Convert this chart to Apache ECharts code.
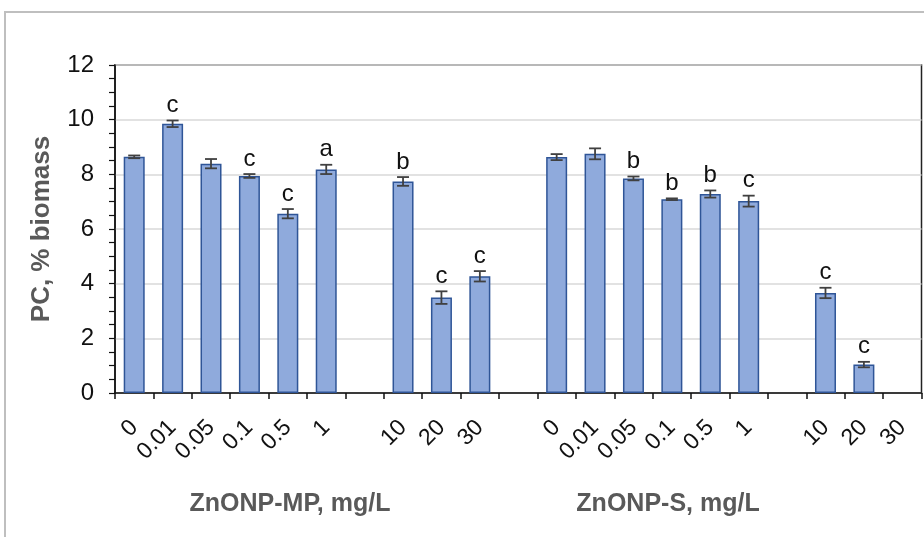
<!DOCTYPE html>
<html>
<head>
<meta charset="utf-8">
<script src="https://cdn.jsdelivr.net/npm/echarts@6/dist/echarts.min.js"></script>
<style>html,body{margin:0;padding:0;background:#fff}#c{width:924px;height:537px}</style>
</head>
<body>
<div id="c"></div>
<script>
// Tick labels (category axis); '' marks an empty gap slot
var tickLabels = ['0','0.01','0.05','0.1','0.5','1','','10','20','30','','0','0.01','0.05','0.1','0.5','1','','10','20','30'];
// PC, % biomass — ZnONP-MP group then ZnONP-S group (null = gap/no data)
var means = [8.64, 9.85, 8.39, 7.94, 6.56, 8.18, null, 7.74, 3.49, 4.27, null,
             8.63, 8.75, 7.85, 7.09, 7.28, 7.02, null, 3.66, 1.04, null];
var errors = [0.05, 0.12, 0.17, 0.07, 0.17, 0.17, null, 0.16, 0.23, 0.19, null,
              0.11, 0.20, 0.07, 0.03, 0.13, 0.20, null, 0.19, 0.10, null];
var letters = ['', 'c', '', 'c', 'c', 'a', '', 'b', 'c', 'c', '',
               '', '', 'b', 'b', 'b', 'c', '', 'c', 'c', ''];
var yTitle = 'PC, % biomass';
var groupTitles = ['ZnONP-MP, mg/L', 'ZnONP-S, mg/L'];

var FONT = '"Liberation Sans", Arial, sans-serif';
var errData = [];
for (var i = 0; i < means.length; i++) {
  if (means[i] != null) errData.push([i, means[i], errors[i], letters[i]]);
}

var chart = echarts.init(document.getElementById('c'), null, {renderer: 'canvas'});
chart.setOption({
  animation: false,
  backgroundColor: '#fff',
  grid: {left: 115, right: 2.5, top: 65, bottom: 144, show: true, borderColor: '#222', borderWidth: 1.5, backgroundColor: 'transparent'},
  xAxis: {
    type: 'category',
    data: tickLabels,
    boundaryGap: true,
    axisLine: {lineStyle: {color: '#111', width: 1.5}},
    axisTick: {show: true, interval: 0, length: 6, lineStyle: {color: '#111', width: 1.5}},
    axisLabel: {interval: 0, rotate: 45, margin: 31, fontSize: 23, color: '#111', fontFamily: FONT},
    splitLine: {show: false}
  },
  yAxis: {
    type: 'value', min: 0, max: 12, interval: 2,
    name: yTitle, nameLocation: 'middle', nameGap: 60,
    nameTextStyle: {fontSize: 26, fontWeight: 'bold', color: '#595959', fontFamily: FONT},
    axisLine: {show: true, lineStyle: {color: '#111', width: 1.5}},
    axisTick: {show: true, length: 6, lineStyle: {color: '#111', width: 1.2}},
    minorTick: {show: true, splitNumber: 4, length: 6, lineStyle: {color: '#111', width: 1.2}},
    axisLabel: {fontSize: 24, color: '#111', margin: 21, fontFamily: FONT},
    splitLine: {show: true, lineStyle: {color: '#d9d9d9', width: 1.5}}
  },
  series: [
    {
      type: 'bar', data: means, barWidth: 21,
      itemStyle: {color: '#8FAADC', borderColor: '#2F5597', borderWidth: 1.5},
      z: 2
    },
    {
      type: 'custom', data: errData, z: 5,
      encode: {x: 0, y: 1},
      renderItem: function (params, api) {
        var x = api.value(0), v = api.value(1), e = api.value(2);
        var lt = errData[params.dataIndex][3];
        var top = api.coord([x, v + e]);
        var bot = api.coord([x, v - e]);
        var hw = 6;
        var st = {stroke: '#404040', lineWidth: 1.8};
        var children = [
          {type: 'line', shape: {x1: top[0], y1: top[1], x2: bot[0], y2: bot[1]}, style: st},
          {type: 'line', shape: {x1: top[0] - hw, y1: top[1], x2: top[0] + hw, y2: top[1]}, style: st},
          {type: 'line', shape: {x1: bot[0] - hw, y1: bot[1], x2: bot[0] + hw, y2: bot[1]}, style: st}
        ];
        if (lt) {
          children.push({type: 'text', style: {text: lt, x: top[0], y: top[1] - 3, align: 'center', verticalAlign: 'bottom', font: '24px ' + FONT, fill: '#111'}});
        }
        return {type: 'group', children: children};
      }
    }
  ],
  graphic: [
    {type: 'rect', shape: {x: 5, y: 12, width: 1000, height: 1000}, style: {fill: 'none', stroke: '#bfbfbf', lineWidth: 2}, z: -1},
    {type: 'text', x: 290, y: 504, style: {text: groupTitles[0], align: 'center', verticalAlign: 'middle', font: 'bold 25px ' + FONT, fill: '#595959'}},
    {type: 'text', x: 668, y: 504, style: {text: groupTitles[1], align: 'center', verticalAlign: 'middle', font: 'bold 25px ' + FONT, fill: '#595959'}}
  ]
});
</script>
</body>
</html>
